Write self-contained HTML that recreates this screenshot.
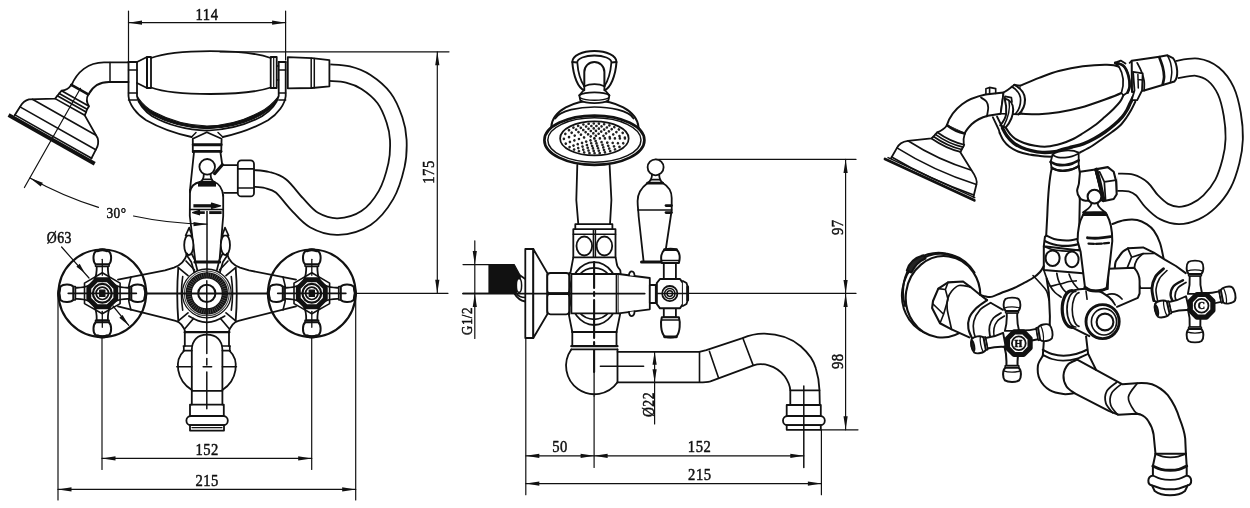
<!DOCTYPE html>
<html><head><meta charset="utf-8"><title>Faucet drawing</title>
<style>
html,body{margin:0;padding:0;background:#fff;}
body{width:1250px;height:508px;overflow:hidden;}
svg{display:block;filter:grayscale(1);}
svg text{font-family:"Liberation Serif","DejaVu Serif",serif;fill:#111;stroke:#111;stroke-width:0.5px;letter-spacing:0.6px;}
</style></head><body>
<svg width="1250" height="508" viewBox="0 0 1250 508" fill="none" stroke="#111" stroke-linejoin="round" stroke-linecap="round">
<path d="M128.5 11L128.5 62" stroke-width="1.2" />
<path d="M285.6 11L285.6 60" stroke-width="1.2" />
<path d="M128.5 22.7L285.6 22.7" stroke-width="1.2" />
<path d="M128.5 22.7L142 20.6L142 24.8Z" fill="#111" stroke="none"/>
<path d="M285.6 22.7L272.1 24.8L272.1 20.6Z" fill="#111" stroke="none"/>
<text font-size="17" text-anchor="middle" transform="translate(207 19.7) scale(0.86 1)" >114</text>
<path d="M220 51.8L449 51.8" stroke-width="1.2" />
<path d="M437.3 51.8L437.3 293.3" stroke-width="1.2" />
<path d="M437.3 51.8L439.4 65.3L435.2 65.3Z" fill="#111" stroke="none"/>
<path d="M437.3 293.3L435.2 279.8L439.4 279.8Z" fill="#111" stroke="none"/>
<text font-size="17" text-anchor="middle" transform="translate(433.6 172) rotate(-90) scale(0.86 1)" >175</text>
<path d="M102 300L102 469.5" stroke-width="1.2" />
<path d="M311.7 300L311.7 469.5" stroke-width="1.2" />
<path d="M102 458.4L311.7 458.4" stroke-width="1.2" />
<path d="M102 458.4L115.5 456.3L115.5 460.5Z" fill="#111" stroke="none"/>
<path d="M311.7 458.4L298.2 460.5L298.2 456.3Z" fill="#111" stroke="none"/>
<text font-size="17" text-anchor="middle" transform="translate(207.2 455.3) scale(0.86 1)" >152</text>
<path d="M58 293L58 500" stroke-width="1.2" />
<path d="M355.7 293L355.7 500" stroke-width="1.2" />
<path d="M58 489.4L355.7 489.4" stroke-width="1.2" />
<path d="M58 489.4L71.5 487.3L71.5 491.5Z" fill="#111" stroke="none"/>
<path d="M355.7 489.4L342.2 491.5L342.2 487.3Z" fill="#111" stroke="none"/>
<text font-size="17" text-anchor="middle" transform="translate(207.2 486) scale(0.86 1)" >215</text>
<path d="M329.5 72.7C332.6 73 341.9 73 348 74.5C354.1 76 360 78.1 366 82C372 85.9 379.2 91.7 384 98C388.8 104.3 392.1 113 394.5 120C396.9 127 398 132.5 398.3 140C398.6 147.5 398.6 155.8 396.5 165C394.4 174.2 391.1 186.2 386 195C380.9 203.8 374 212.7 366 218C358 223.3 346.7 226.3 338 226.6C329.3 226.9 320.8 223.8 314 220C307.2 216.2 302.5 209.7 297 204C291.5 198.3 286 190 281 186C276 182 271.7 181.3 267 180C262.3 178.7 255.3 178.6 253 178.3" stroke-width="18.4" fill="none" stroke-linecap="butt"/>
<path d="M329.5 72.7C332.6 73 341.9 73 348 74.5C354.1 76 360 78.1 366 82C372 85.9 379.2 91.7 384 98C388.8 104.3 392.1 113 394.5 120C396.9 127 398 132.5 398.3 140C398.6 147.5 398.6 155.8 396.5 165C394.4 174.2 391.1 186.2 386 195C380.9 203.8 374 212.7 366 218C358 223.3 346.7 226.3 338 226.6C329.3 226.9 320.8 223.8 314 220C307.2 216.2 302.5 209.7 297 204C291.5 198.3 286 190 281 186C276 182 271.7 181.3 267 180C262.3 178.7 255.3 178.6 253 178.3" stroke-width="14.8" fill="none" stroke="#fff" stroke-linecap="butt"/>
<path d="M128.5 62.4L104 62.4C88 62.4 77 72 71.4 85.4" stroke-width="1.8" fill="none" />
<path d="M128.5 82L109 82C100 82 93 86 88.8 94" stroke-width="1.8" fill="none" />
<path d="M110 62.4L110 82" stroke-width="1.5" />
<g transform="translate(51 140.5) rotate(29.5)" >
<path d="M0 -60L0 54" stroke-width="1.2" />
<path d="M-9.7 -58.5L9.7 -58.5" stroke-width="2.7" />
<path d="M-9.7 -58.5C-10 -53 -13 -50 -15.3 -48.5L-16 -45L-16.5 -42L-17 -38.5L-39.5 -25C-42.5 -22 -43.5 -19 -43.5 -15L-44 -4" stroke-width="1.8" fill="none" />
<path d="M9.7 -58.5C10 -53 13 -50 16.3 -48.5L16 -45L16.5 -42L17 -38.5L39.5 -25C42.5 -22 43.5 -19 43.5 -15L44 -4" stroke-width="1.8" fill="none" />
<path d="M-15.3 -48.5L15.3 -48.5" stroke-width="1.7" />
<path d="M-16 -45L16 -45" stroke-width="1.7" />
<path d="M-16.5 -42L16.5 -42" stroke-width="1.7" />
<path d="M-17 -38.5L17 -38.5" stroke-width="1.7" />
<path d="M-36.5 -26.7L36.5 -26.7" stroke-width="1.6" />
<path d="M-43.5 -14L43.5 -14" stroke-width="1.6" />
<path d="M-44 -4.5L44 -4.5" stroke-width="1.6" />
<path d="M-49.5 -1.3L49.5 -1.3" stroke-width="3.9" stroke-linecap="butt"/>
</g>
<path d="M30 178A360.5 360.5 0 0 0 98.5 207.4" stroke-width="1.2" fill="none" />
<path d="M133.5 216A360.5 360.5 0 0 0 207 224.1" stroke-width="1.2" fill="none" />
<path d="M30 178L42.8 182.8L40.7 186.5Z" fill="#111" stroke="none"/>
<path d="M207 224.2L193.5 226.3L193.5 222.1Z" fill="#111" stroke="none"/>
<text font-size="15.5" text-anchor="middle" transform="translate(116.5 217.8) scale(0.86 1)" >30°</text>
<path d="M128.5 62L128.5 96C129 104 136 114 146.2 120.3C158 127 172 133 191.6 137" stroke-width="1.8" fill="none" />
<path d="M285.7 62L285.7 96C285 104 278 114 268 120.3C256 127 242 133 222.8 137" stroke-width="1.8" fill="none" />
<path d="M137 62L137 96C138 103 144 111 152.2 116.3C166 124 186 130 207 130.6C228 130 248 124 262 116.3C270 111 277 103 278.7 96L278.7 62" stroke-width="1.8" fill="none" />
<path d="M137.5 97C139 103 145 110 153 115C167 122.5 186 128 207 128.6C228 128 247 122.5 261 115C269 110 276 103 278 97C274 102 268 108 260 112C246 119.5 228 125.5 207 126C186 125.5 168 119.5 154 112C146 108 141 102 137.5 97Z" stroke-width="1.2" fill="#111" />
<path d="M128.5 70L137 70" stroke-width="1.5" />
<path d="M278.7 70L285.7 70" stroke-width="1.5" />
<path d="M128.5 93L137 93" stroke-width="1.5" />
<path d="M278.7 93L285.7 93" stroke-width="1.5" />
<path d="M128.5 100L137 100" stroke-width="1.5" />
<path d="M278.7 100L285.7 100" stroke-width="1.5" />
<path d="M128.5 62L137 62" stroke-width="1.8" />
<path d="M278.7 62L285.7 62" stroke-width="1.8" />
<path d="M151 58C175 48.7 245 48.7 270.7 58M151 87.5C175 96.2 245 96.2 270.7 87.5" stroke-width="1.8" fill="none" />
<path d="M137 62L147 57L147 88L137 83" stroke-width="1.8" fill="none" />
<rect x="147" y="57" width="4" height="31" rx="0" stroke-width="1.8" fill="none" />
<rect x="270.7" y="57" width="6" height="31" rx="0" stroke-width="1.8" fill="none" />
<path d="M273.7 57L273.7 88" stroke-width="1.2" />
<path d="M276.7 66L278.7 66" stroke-width="1.5" />
<path d="M276.7 80L278.7 80" stroke-width="1.5" />
<path d="M287.8 57.2L312 58.2L329.4 60.2L329.4 86.3L312 88L287.8 88.3Z" stroke-width="1.8" fill="#fff" />
<path d="M311.2 58.2L311.2 88" stroke-width="1.5" />
<path d="M314.3 58.4L314.3 87.8" stroke-width="1.5" />
<path d="M192.8 152L192.8 138.8L206.8 132.2L221.6 138.8L221.2 152" stroke-width="1.8" fill="#fff" />
<path d="M191.6 137L196 132.5" stroke-width="1.5" />
<path d="M222.8 137L218 132.5" stroke-width="1.5" />
<path d="M193.2 144.7L221.2 144.7" stroke-width="2.9" />
<path d="M193.4 151.4L221 151.4" stroke-width="2.9" />
<path d="M194 152L190 190" stroke-width="1.8" fill="none" />
<path d="M220.4 152L222.2 164.5" stroke-width="1.8" fill="none" />
<circle cx="207.2" cy="166.8" r="7.8" stroke-width="1.8" fill="none" />
<path d="M203.8 174.2C203.8 178.5 202 181 200 182M210.6 174.2C210.6 178.5 212.4 181 214.4 182" stroke-width="1.8" fill="none" />
<path d="M202.6 179.4L211.8 179.4" stroke-width="1.6" />
<path d="M200 182L214.4 182" stroke-width="2" />
<path d="M190 192C191 186 195 183 200 182M214.4 182C220 184 222.5 189 223.2 196" stroke-width="1.8" fill="none" />
<path d="M198 184.4L216 184.4" stroke-width="4.4" stroke-linecap="butt"/>
<path d="M222.4 164.8L214.6 173.6" stroke-width="3.2" />
<path d="M222.6 165.2L237.8 165.2" stroke-width="1.8" />
<path d="M224 192.8L237.8 192.8" stroke-width="1.8" />
<rect x="237.8" y="160.4" width="16.2" height="36" rx="3.5" stroke-width="1.8" fill="#fff" />
<path d="M238 168.8L254 168.8" stroke-width="1.7" />
<path d="M238 188L254 188" stroke-width="1.7" />
<path d="M190 190L189.8 216L195.4 262" stroke-width="1.8" fill="none" />
<path d="M223.2 195L223.2 216L219.4 262" stroke-width="1.8" fill="none" />
<path d="M195 262L219.6 262" stroke-width="3.2" />
<path d="M193.4 205.8L212 205.8" stroke-width="3.2" stroke-linecap="butt"/>
<path d="M211.5 203.2L220.6 205.8L211.5 208.4Z" stroke-width="1.2" fill="#111" />
<path d="M190 209.6L223.2 209.6" stroke-width="1.5" />
<path d="M192.6 212.6L199.5 210.4L199.5 214.8Z" stroke-width="1.2" fill="#111" />
<path d="M199 212.6L204.8 212.6" stroke-width="2.7" stroke-linecap="butt"/>
<path d="M209.2 212.6L221.6 212.6" stroke-width="2.9" stroke-linecap="butt"/>
<path d="M207 211.5L207 275" stroke-width="1.5" />
<ellipse cx="188.8" cy="245" rx="4.6" ry="10" stroke-width="1.8" fill="#fff" />
<path d="M185.60000000000002 235.5L189.20000000000002 227.6L192.0 235.5Z" stroke-width="1.7" fill="#fff" />
<path d="M186.3 254.5L191.3 262L194.3 272.5" stroke-width="1.7" fill="none" />
<path d="M191.8 254L194.8 260L197.3 270" stroke-width="1.7" fill="none" />
<ellipse cx="225.4" cy="245" rx="4.6" ry="10" stroke-width="1.8" fill="#fff" />
<path d="M222.20000000000002 235.5L225.0 227.6L228.6 235.5Z" stroke-width="1.7" fill="#fff" />
<path d="M227.9 254.5L222.9 262L219.9 272.5" stroke-width="1.7" fill="none" />
<path d="M222.4 254L219.4 260L216.9 270" stroke-width="1.7" fill="none" />
<path d="M118 279.6L165 270.4L174 267.7C181 265 185.4 260 187.1 253.5" stroke-width="1.8" fill="none" />
<path d="M296 279.6L249 270.4L240 267.7C233 265 228.6 260 226.9 253.5" stroke-width="1.8" fill="none" />
<path d="M118 306.4L165 318.2L175.6 320.8C180 322 183.5 326 185.4 332.3" stroke-width="1.8" fill="none" />
<path d="M296 306.4L249 318.2L238.4 320.8C234 322 230.5 326 228.6 332.3" stroke-width="1.8" fill="none" />
<path d="M178.3 267.7Q176.2 294 178.3 320.8" stroke-width="1.8" fill="none" />
<path d="M235.7 267.7Q237.8 294 235.7 320.8" stroke-width="1.8" fill="none" />
<path d="M182.7 276.6Q180.2 293.5 182.7 310.2" stroke-width="1.6" fill="none" />
<path d="M231.3 276.6Q233.8 293.5 231.3 310.2" stroke-width="1.6" fill="none" />
<path d="M178.3 267.7L188 275.7M186 261L194.5 270" stroke-width="1.7" fill="none" />
<path d="M235.7 267.7L226 275.7M228 261L219.5 270" stroke-width="1.7" fill="none" />
<path d="M178.3 320.8L188 312.9M185 328.5L193.5 318.5" stroke-width="1.7" fill="none" />
<path d="M235.7 320.8L226 312.9M229 328.5L220.5 318.5" stroke-width="1.7" fill="none" />
<circle cx="206.8" cy="293.4" r="8.6" stroke-width="2" fill="none" />
<circle cx="206.8" cy="293.4" r="18.1" stroke-width="6.3" fill="none" />
<circle cx="206.8" cy="293.4" r="22.4" stroke-width="1.1" fill="none" stroke="#444"/>
<circle cx="206.8" cy="293.4" r="24.4" stroke-width="1.3" fill="none" />
<circle cx="206.8" cy="293.4" r="18.1" stroke-width="4.4" fill="none" stroke="#555" stroke-dasharray="0.7 1.5" stroke-linecap="butt"/>
<path d="M188.8 316C195 320 200 322 206.8 322.4C213.6 322 218.6 320 224.8 316" stroke-width="1.6" fill="none" />
<path d="M206.8 280.8L206.8 308.4" stroke-width="1.5" />
<path d="M206.8 308.4L206.8 353.5" stroke-width="1.5" />
<path d="M206.8 358.5L206.8 365" stroke-width="1.5" />
<path d="M206.8 372L206.8 408.8" stroke-width="1.5" />
<path d="M184.6 332.2L229.4 332.2" stroke-width="2.2" />
<path d="M184.8 332L184.8 346M229 332L229 346" stroke-width="1.8" fill="none" />
<path d="M183.4 346L191.8 346M183.4 350.6L191.8 350.6M183.8 346L183.8 350.6M222.4 346L230.2 346M222.4 350.6L230.2 350.6M229.8 346L229.8 350.6" stroke-width="1.7" fill="none" />
<path d="M191.8 404.6L191.8 350C191.8 340 198 334.6 207 334.6C216 334.6 222.4 340 222.4 350L222.4 404.6" stroke-width="1.8" fill="none" />
<path d="M184 350.8C174 360 176 380 191.8 390M229.6 350.8C239.6 360 237.6 380 222.4 390" stroke-width="1.8" fill="none" />
<path d="M176.8 366.8L191.8 366.8" stroke-width="1.6" />
<path d="M222.4 366.8L236.4 366.8" stroke-width="1.6" />
<path d="M203.2 366.8L211.6 366.8" stroke-width="1.6" />
<path d="M191.8 390.8L222.4 390.8" stroke-width="1.7" />
<rect x="190" y="404.6" width="33.8" height="11.4" rx="0" stroke-width="1.8" fill="none" />
<rect x="186.4" y="416" width="41.4" height="9.2" rx="4.4" stroke-width="1.8" fill="none" />
<rect x="190" y="425.2" width="34" height="5.4" rx="0" stroke-width="1.8" fill="none" />
<path d="M192 427.6L222 427.6" stroke-width="1.2" />
<path d="M68 293.4L356 293.4" stroke-width="2" />
<path d="M356 293.3L448 293.3" stroke-width="1.2" />
<path d="M131 277Q125.5 293.4 131 310M283 277Q288.5 293.4 283 310" stroke-width="1.6" fill="none" />
<circle cx="102.3" cy="293.3" r="43.8" stroke-width="2.2" fill="none" />
<g transform="translate(102.3 293.3) rotate(0)" >
<path d="M13 -8C17 -6 21 -5.4 27 -5.6L27 5.6C21 5.4 17 6 13 8" stroke-width="1.8" fill="#fff" />
<path d="M27 -6.8L29 -6.8L29 6.8L27 6.8Z" stroke-width="1.5" fill="#fff" />
<path d="M29 -6.5C31 -9.5 39 -9.5 41.5 -7C43.6 -4 43.6 4 41.5 7C39 9.5 31 9.5 29 6.5Z" stroke-width="2" fill="#fff" />
<path d="M42.6 -4.5C43.8 -2 43.8 2 42.6 4.5" stroke-width="2.9" fill="none" />
</g>
<g transform="translate(102.3 293.3) rotate(90)" >
<path d="M13 -8C17 -6 21 -5.4 27 -5.6L27 5.6C21 5.4 17 6 13 8" stroke-width="1.8" fill="#fff" />
<path d="M27 -6.8L29 -6.8L29 6.8L27 6.8Z" stroke-width="1.5" fill="#fff" />
<path d="M29 -6.5C31 -9.5 39 -9.5 41.5 -7C43.6 -4 43.6 4 41.5 7C39 9.5 31 9.5 29 6.5Z" stroke-width="2" fill="#fff" />
<path d="M42.6 -4.5C43.8 -2 43.8 2 42.6 4.5" stroke-width="2.9" fill="none" />
</g>
<g transform="translate(102.3 293.3) rotate(180)" >
<path d="M13 -8C17 -6 21 -5.4 27 -5.6L27 5.6C21 5.4 17 6 13 8" stroke-width="1.8" fill="#fff" />
<path d="M27 -6.8L29 -6.8L29 6.8L27 6.8Z" stroke-width="1.5" fill="#fff" />
<path d="M29 -6.5C31 -9.5 39 -9.5 41.5 -7C43.6 -4 43.6 4 41.5 7C39 9.5 31 9.5 29 6.5Z" stroke-width="2" fill="#fff" />
<path d="M42.6 -4.5C43.8 -2 43.8 2 42.6 4.5" stroke-width="2.9" fill="none" />
</g>
<g transform="translate(102.3 293.3) rotate(270)" >
<path d="M13 -8C17 -6 21 -5.4 27 -5.6L27 5.6C21 5.4 17 6 13 8" stroke-width="1.8" fill="#fff" />
<path d="M27 -6.8L29 -6.8L29 6.8L27 6.8Z" stroke-width="1.5" fill="#fff" />
<path d="M29 -6.5C31 -9.5 39 -9.5 41.5 -7C43.6 -4 43.6 4 41.5 7C39 9.5 31 9.5 29 6.5Z" stroke-width="2" fill="#fff" />
<path d="M42.6 -4.5C43.8 -2 43.8 2 42.6 4.5" stroke-width="2.9" fill="none" />
</g>
<path d="M120.1 303.6L102.3 313.8L84.5 303.6L84.5 283.1L102.3 272.8L120.1 283.1Z" stroke-width="1.6" fill="none" />
<path d="M115.8 298.9L107.9 306.8L96.7 306.8L88.8 298.9L88.8 287.7L96.7 279.8L107.9 279.8L115.8 287.7Z" stroke-width="4.9" fill="#fff" />
<circle cx="102.3" cy="293.3" r="9.4" stroke-width="2.2" fill="none" />
<circle cx="102.3" cy="293.3" r="6.2" stroke-width="1.7" fill="none" />
<rect x="99.7" y="290.1" width="5.2" height="6.4" rx="0" stroke-width="1.2" fill="#111" />
<path d="M102.3 259.3L102.3 275.3" stroke-width="1.3" />
<path d="M102.3 311.3L102.3 327.3" stroke-width="1.3" />
<path d="M68.3 293.3L136.3 293.3" stroke-width="1.8" />
<circle cx="311.8" cy="293.3" r="43.8" stroke-width="2.2" fill="none" />
<g transform="translate(311.8 293.3) rotate(0)" >
<path d="M13 -8C17 -6 21 -5.4 27 -5.6L27 5.6C21 5.4 17 6 13 8" stroke-width="1.8" fill="#fff" />
<path d="M27 -6.8L29 -6.8L29 6.8L27 6.8Z" stroke-width="1.5" fill="#fff" />
<path d="M29 -6.5C31 -9.5 39 -9.5 41.5 -7C43.6 -4 43.6 4 41.5 7C39 9.5 31 9.5 29 6.5Z" stroke-width="2" fill="#fff" />
<path d="M42.6 -4.5C43.8 -2 43.8 2 42.6 4.5" stroke-width="2.9" fill="none" />
</g>
<g transform="translate(311.8 293.3) rotate(90)" >
<path d="M13 -8C17 -6 21 -5.4 27 -5.6L27 5.6C21 5.4 17 6 13 8" stroke-width="1.8" fill="#fff" />
<path d="M27 -6.8L29 -6.8L29 6.8L27 6.8Z" stroke-width="1.5" fill="#fff" />
<path d="M29 -6.5C31 -9.5 39 -9.5 41.5 -7C43.6 -4 43.6 4 41.5 7C39 9.5 31 9.5 29 6.5Z" stroke-width="2" fill="#fff" />
<path d="M42.6 -4.5C43.8 -2 43.8 2 42.6 4.5" stroke-width="2.9" fill="none" />
</g>
<g transform="translate(311.8 293.3) rotate(180)" >
<path d="M13 -8C17 -6 21 -5.4 27 -5.6L27 5.6C21 5.4 17 6 13 8" stroke-width="1.8" fill="#fff" />
<path d="M27 -6.8L29 -6.8L29 6.8L27 6.8Z" stroke-width="1.5" fill="#fff" />
<path d="M29 -6.5C31 -9.5 39 -9.5 41.5 -7C43.6 -4 43.6 4 41.5 7C39 9.5 31 9.5 29 6.5Z" stroke-width="2" fill="#fff" />
<path d="M42.6 -4.5C43.8 -2 43.8 2 42.6 4.5" stroke-width="2.9" fill="none" />
</g>
<g transform="translate(311.8 293.3) rotate(270)" >
<path d="M13 -8C17 -6 21 -5.4 27 -5.6L27 5.6C21 5.4 17 6 13 8" stroke-width="1.8" fill="#fff" />
<path d="M27 -6.8L29 -6.8L29 6.8L27 6.8Z" stroke-width="1.5" fill="#fff" />
<path d="M29 -6.5C31 -9.5 39 -9.5 41.5 -7C43.6 -4 43.6 4 41.5 7C39 9.5 31 9.5 29 6.5Z" stroke-width="2" fill="#fff" />
<path d="M42.6 -4.5C43.8 -2 43.8 2 42.6 4.5" stroke-width="2.9" fill="none" />
</g>
<path d="M329.6 303.6L311.8 313.8L294 303.6L294 283.1L311.8 272.8L329.6 283.1Z" stroke-width="1.6" fill="none" />
<path d="M325.3 298.9L317.4 306.8L306.2 306.8L298.3 298.9L298.3 287.7L306.2 279.8L317.4 279.8L325.3 287.7Z" stroke-width="4.9" fill="#fff" />
<circle cx="311.8" cy="293.3" r="9.4" stroke-width="2.2" fill="none" />
<circle cx="311.8" cy="293.3" r="6.2" stroke-width="1.7" fill="none" />
<rect x="309.2" y="290.1" width="5.2" height="6.4" rx="0" stroke-width="1.2" fill="#111" />
<path d="M311.8 259.3L311.8 275.3" stroke-width="1.3" />
<path d="M311.8 311.3L311.8 327.3" stroke-width="1.3" />
<path d="M277.8 293.3L345.8 293.3" stroke-width="1.8" />
<text font-size="16" text-anchor="middle" transform="translate(59.4 243.4) scale(0.86 1)" >Ø63</text>
<path d="M61.6 247L89 278" stroke-width="1.2" />
<path d="M84.6 272.8L76.4 266.7L79.7 263.8Z" fill="#111" stroke="none"/>
<path d="M113 306L128.8 325.4" stroke-width="1.2" />
<path d="M128.8 325.4L119.3 317.8L122.6 314.9Z" fill="#111" stroke="none"/>
<path d="M655.6 159.4L856 159.4" stroke-width="1.2" />
<path d="M688 293.4L856 293.4" stroke-width="1.2" />
<path d="M820.8 429.8L858 429.8" stroke-width="1.2" />
<path d="M845.6 159.4L845.6 429.8" stroke-width="1.2" />
<path d="M845.6 159.4L847.7 172.9L843.5 172.9Z" fill="#111" stroke="none"/>
<path d="M845.6 293.4L843.5 279.9L847.7 279.9Z" fill="#111" stroke="none"/>
<path d="M845.6 293.4L847.7 306.9L843.5 306.9Z" fill="#111" stroke="none"/>
<path d="M845.6 429.8L843.5 416.3L847.7 416.3Z" fill="#111" stroke="none"/>
<text font-size="17" text-anchor="middle" transform="translate(842.8 227.2) rotate(-90) scale(0.86 1)" >97</text>
<text font-size="17" text-anchor="middle" transform="translate(842.8 361.2) rotate(-90) scale(0.86 1)" >98</text>
<path d="M525.8 338L525.8 494.7" stroke-width="1.2" />
<path d="M594.1 396L594.1 467.5" stroke-width="1.2" />
<path d="M821.4 429.8L821.4 494.7" stroke-width="1.2" />
<path d="M525.8 455.8L803.8 455.8" stroke-width="1.2" />
<path d="M525.8 455.8L539.3 453.7L539.3 457.9Z" fill="#111" stroke="none"/>
<path d="M594.1 455.8L580.6 457.9L580.6 453.7Z" fill="#111" stroke="none"/>
<path d="M594.1 455.8L607.6 453.7L607.6 457.9Z" fill="#111" stroke="none"/>
<path d="M803.8 455.8L790.3 457.9L790.3 453.7Z" fill="#111" stroke="none"/>
<path d="M525.8 483.6L821.4 483.6" stroke-width="1.2" />
<path d="M525.8 483.6L539.3 481.5L539.3 485.7Z" fill="#111" stroke="none"/>
<path d="M821.4 483.6L807.9 485.7L807.9 481.5Z" fill="#111" stroke="none"/>
<text font-size="17" text-anchor="middle" transform="translate(560 452.2) scale(0.86 1)" >50</text>
<text font-size="17" text-anchor="middle" transform="translate(699.6 452.2) scale(0.86 1)" >152</text>
<text font-size="17" text-anchor="middle" transform="translate(699.8 480) scale(0.86 1)" >215</text>
<path d="M474.8 240.8L474.8 338.4" stroke-width="1.2" />
<path d="M463 264.6L490 264.6" stroke-width="1.2" />
<path d="M463 293.4L490 293.4" stroke-width="1.2" />
<path d="M474.8 264.6L472.7 251.1L476.9 251.1Z" fill="#111" stroke="none"/>
<path d="M474.8 293.4L476.9 306.9L472.7 306.9Z" fill="#111" stroke="none"/>
<text font-size="15" text-anchor="middle" transform="translate(472.3 321) rotate(-90) scale(0.86 1)" letter-spacing="1.2">G1/2</text>
<path d="M654.6 351.8L654.6 424" stroke-width="1.2" />
<path d="M654.6 351.8L656.7 364.8L652.5 364.8Z" fill="#111" stroke="none"/>
<path d="M654.6 382.3L652.5 369.3L656.7 369.3Z" fill="#111" stroke="none"/>
<text font-size="16" text-anchor="middle" transform="translate(654 404.5) rotate(-90) scale(0.86 1)" >Ø22</text>
<path d="M489 264.5L514.2 264.5L520.2 275.5L520.2 281L516 293.2L489 293.2Z" stroke-width="1.2" fill="#111" />
<path d="M520.2 275.5L525.3 279M514.2 293.2C517 298 520 300.5 525.3 301.5" stroke-width="1.8" fill="none" />
<ellipse cx="519" cy="285.5" rx="2.6" ry="7" stroke-width="1.5" fill="#fff" />
<path d="M516.5 293.5C518 296 521 297.5 525.3 297.5" stroke-width="1.5" fill="none" />
<rect x="525.3" y="249" width="8" height="89" rx="0" stroke-width="1.8" fill="#fff" />
<path d="M533.3 249L547.3 273L547.3 314.3L533.3 338Z" stroke-width="1.8" fill="#fff" />
<rect x="547.3" y="273" width="22.1" height="20.6" rx="3.2" stroke-width="1.8" fill="#fff" />
<rect x="547.3" y="293.6" width="22.1" height="20.7" rx="3.2" stroke-width="1.8" fill="#fff" />
<path d="M547.3 293.6L569.4 293.6" stroke-width="2.7" />
<ellipse cx="594.1" cy="293.6" rx="24.6" ry="31.4" stroke-width="1.8" fill="none" />
<ellipse cx="594.1" cy="293.6" rx="21.8" ry="25.7" stroke-width="1.8" fill="none" />
<path d="M573.3 257.3L570.4 273M615.5 257.3C617 262 616 266 619 268.5C621 270 620.6 272 620.6 274" stroke-width="1.8" fill="none" />
<path d="M568.6 313.3L572.3 332M620.3 313.3L616.5 332" stroke-width="1.8" fill="none" />
<rect x="571.4" y="274" width="47.2" height="39.3" rx="0" stroke-width="1.8" fill="#fff" />
<path d="M569.4 273L569.4 314.3" stroke-width="1.8" />
<path d="M616.4 274L616.4 313.3" stroke-width="1.5" />
<path d="M618.6 274L649.8 278L649.8 309.3L618.6 313.3" stroke-width="1.8" fill="#fff" />
<path d="M629 275.3C629 270 634.5 270 634.5 276M629 312C629 317.5 634.5 317.5 634.5 311.3" stroke-width="1.8" fill="#fff" />
<rect x="649.8" y="285" width="6" height="18" rx="0" stroke-width="1.8" fill="#fff" />
<path d="M463 293.6L644.7 293.6" stroke-width="1.8" />
<path d="M594.1 262L594.1 288" stroke-width="2.1" />
<path d="M594.1 292L594.1 296" stroke-width="2.1" />
<path d="M594.1 300L594.1 338" stroke-width="2.1" />
<path d="M594.1 342L594.1 346" stroke-width="2.1" />
<path d="M594.1 350L594.1 372" stroke-width="2.1" />
<path d="M594.1 372L594.1 396" stroke-width="1.3" />
<path d="M572.3 332L616.5 332" stroke-width="1.8" />
<path d="M571.3 346.2L617.5 346.2" stroke-width="2.2" />
<path d="M571.3 349.4L617.5 349.4" stroke-width="1.6" />
<path d="M572.3 332L572.3 346" stroke-width="1.8" />
<path d="M616.5 332L616.5 346" stroke-width="1.8" />
<path d="M571.3 349.5A28.3 28.3 0 1 0 617.5 382.3" stroke-width="1.8" fill="none" />
<path d="M617.5 349.4L617.5 382.3" stroke-width="1.8" />
<path d="M617.5 351.8L699.3 351.8L706.3 350.2L742.5 338.2C750 335 757 333.5 764.6 333.7C780 334 792 339 800.7 346.2C809 353.5 814 361 815.8 368.3C818.5 377 819.3 384 819.5 390.4L819.8 405" stroke-width="1.8" fill="none" />
<path d="M617.5 382.3L699.3 382.3C704 382.3 707 382.2 710.4 381.3L753.5 365.3C759 363.5 764 364 768.6 365.3C776 367.5 781.5 372 784.7 376.3C788 381 790 386 790.3 390.4L790.3 405" stroke-width="1.8" fill="none" />
<path d="M699.5 351.8L699.5 382.3" stroke-width="1.6" />
<path d="M709.4 351.2L718.4 377.6" stroke-width="1.6" />
<path d="M742.9 338.2L753 364.9" stroke-width="1.6" />
<path d="M790.3 390.4L819.5 390.4" stroke-width="1.6" />
<rect x="786.7" y="405" width="34.1" height="11" rx="0" stroke-width="1.8" fill="#fff" />
<rect x="783" y="416" width="41.8" height="9.2" rx="4.4" stroke-width="1.8" fill="#fff" />
<rect x="786.7" y="425.2" width="34.1" height="4.6" rx="0" stroke-width="1.8" fill="#fff" />
<path d="M600.4 366.3L643.6 366.3" stroke-width="1.6" />
<path d="M803.8 386L803.8 467.5" stroke-width="1.5" />
<rect x="573.3" y="229.2" width="42.2" height="28.1" rx="0" stroke-width="1.8" fill="#fff" />
<path d="M573.3 234.3L615.5 234.3" stroke-width="1.6" />
<path d="M593.4 229.2L593.4 257.3" stroke-width="1.5" />
<path d="M595.4 229.2L595.4 257.3" stroke-width="1.5" />
<ellipse cx="584.3" cy="246" rx="7.8" ry="9.5" stroke-width="1.8" fill="none" />
<ellipse cx="604.4" cy="246" rx="7.8" ry="9.5" stroke-width="1.8" fill="none" />
<rect x="575.3" y="224.2" width="37.1" height="5" rx="0" stroke-width="1.8" fill="#fff" />
<path d="M577.3 165L576.3 200L578.3 224.2M609.6 165L611.4 200L610 224.2" stroke-width="1.8" fill="none" />
<path d="M551.2 127.5C552 110 575 100.5 594.4 100.5C614 100.5 637 110 638.6 127.5L642 134M551.2 127.5L547 134" stroke-width="2" fill="#fff" />
<path d="M555.2 118.5C560 110 580 107 594.4 107C609 107 629 110 633.6 118.5" stroke-width="1.7" fill="none" />
<ellipse cx="594.4" cy="140.2" rx="50" ry="24.6" stroke-width="2.7" fill="#fff" />
<ellipse cx="594.4" cy="140" rx="46.6" ry="22.2" stroke-width="1.5" fill="none" />
<ellipse cx="594.4" cy="138.4" rx="34.3" ry="17" stroke-width="1.7" fill="none" />
<ellipse cx="594.4" cy="138.4" rx="30.5" ry="14.9" stroke-width="2.6" fill="none" stroke-dasharray="0.1 5.1" stroke="#222"/>
<ellipse cx="594.4" cy="138.4" rx="25.5" ry="12.5" stroke-width="2.6" fill="none" stroke-dasharray="0.1 5.1" stroke="#222"/>
<ellipse cx="594.4" cy="138.4" rx="20.5" ry="10" stroke-width="2.6" fill="none" stroke-dasharray="0.1 5.1" stroke="#222"/>
<ellipse cx="594.4" cy="138.4" rx="15.5" ry="7.6" stroke-width="2.6" fill="none" stroke-dasharray="0.1 5.1" stroke="#222"/>
<ellipse cx="594.4" cy="138.4" rx="10.5" ry="5.1" stroke-width="2.6" fill="none" stroke-dasharray="0.1 5.1" stroke="#222"/>
<ellipse cx="594.4" cy="138.4" rx="5.5" ry="2.7" stroke-width="2.6" fill="none" stroke-dasharray="0.1 5.1" stroke="#222"/>
<circle cx="594.4" cy="138.4" r="0.6" stroke-width="1.5" fill="#222" />
<path d="M579.3 95.3C585 91.5 604 91.5 609.4 95.3L608.4 100.3C603 104 586 104 580.3 100.3Z" stroke-width="1.8" fill="#fff" />
<path d="M580 97.8C586 101 603 101 608.8 97.8" stroke-width="1.5" fill="none" />
<path d="M584.3 86.2L584.3 89.5L579.3 95.3M604.4 86.2L604.4 89.5L609.4 95.3" stroke-width="1.8" fill="none" />
<path d="M584.3 90.2C578 88 573.3 76 572.3 62A22.1 11 0 0 1 616.5 62C615.5 76 610.5 88 604.4 90.2" stroke-width="2" fill="none" />
<path d="M572.3 62L577.3 62.5M616.5 62L611.4 62.5M577.3 62.5A17 7 0 0 1 611.4 62.5M577.3 62.5C578 72 580 80 584.3 86.2M611.4 62.5C610.6 72 608.5 80 604.4 86.2" stroke-width="1.8" fill="none" />
<path d="M584.3 86.2L584.3 72A10 10 0 0 1 604.4 72L604.4 86.2" stroke-width="2" fill="none" />
<path d="M584.3 86.2C590 83.5 599 83.5 604.4 86.2" stroke-width="1.7" fill="none" />
<circle cx="655.6" cy="167.3" r="8" stroke-width="1.8" fill="#fff" />
<path d="M652 174.5C652 179 650 181.5 647.6 183M659.2 174.5C659.2 179 661 181.5 662.7 183" stroke-width="1.8" fill="none" />
<path d="M650.6 179.6L660.4 179.6" stroke-width="1.6" />
<path d="M647.6 183.2L662.7 183.2" stroke-width="2.7" />
<path d="M647.6 183C641 188 637.6 194 637.6 201C637.6 208 638.6 212 638.6 216L643.6 261.4" stroke-width="1.8" fill="none" />
<path d="M662.7 183C668 186 671.7 191 671.7 198L671.7 210L665.7 250" stroke-width="1.8" fill="none" />
<path d="M638 210L671.7 210" stroke-width="1.6" />
<path d="M666 205.6L671.5 205.6" stroke-width="2.7" />
<path d="M666 212.6L671.5 212.6" stroke-width="2.7" />
<path d="M641.6 262L662.7 262" stroke-width="3.2" />
<path d="M663.8 279L663.8 263L675.9 263L675.9 279" stroke-width="1.8" fill="#fff" />
<path d="M661.8 263C660.5 258 661 252 664.5 249.8C668 248.5 673 248.5 676.5 249.8C680 252 680.3 258 678.9 263Z" stroke-width="2" fill="#fff" />
<path d="M664.5 249.6L676.5 249.6" stroke-width="2.7" />
<path d="M662 260.4L678.7 260.4" stroke-width="1.5" />
<path d="M663.8 308.3L663.8 317.3L675.9 317.3L675.9 308.3" stroke-width="1.8" fill="#fff" />
<path d="M661.8 317.3C660.5 322 660.5 332 664.5 336.4C668 337.8 673 337.8 676.5 336.4C680.3 332 680.3 322 678.9 317.3Z" stroke-width="2" fill="#fff" />
<path d="M664.5 336.8L676.5 336.8" stroke-width="2.7" />
<path d="M662 320L678.7 320" stroke-width="1.5" />
<path d="M660 279L680 279L682.9 283L682.9 304L680 308.3L660 308.3L656.8 304L656.8 283Z" stroke-width="2" fill="#fff" />
<path d="M682.9 281L686.5 283L688 288L688 299L686.5 304L682.9 306" stroke-width="1.8" fill="#fff" />
<path d="M687.6 287L687.6 300" stroke-width="2.9" />
<circle cx="669.8" cy="293.6" r="7.6" stroke-width="1.8" fill="none" />
<circle cx="669.8" cy="293.6" r="5.2" stroke-width="1.5" fill="none" />
<circle cx="669.8" cy="293.6" r="2.8" stroke-width="1.5" fill="none" />
<path d="M656.8 293.6L688 293.6" stroke-width="1.5" />
<path d="M1176.8 69.5C1180.2 69.1 1190.9 66.4 1197 67.2C1203.1 68 1208.6 70.3 1213.4 74.2C1218.2 78.1 1222.7 84.1 1225.8 90.8C1228.9 97.5 1230.9 106.4 1232.3 114.5C1233.7 122.6 1234.4 131.4 1234.2 139.2C1234 146.9 1232.9 153.6 1231 161C1229.1 168.4 1226.6 176.9 1223 183.7C1219.4 190.4 1214.2 196.9 1209.5 201.5C1204.8 206.1 1200.1 209.2 1195 211.5C1189.9 213.8 1184.2 215.5 1179 215.5C1173.8 215.5 1168.6 213.9 1164 211.5C1159.4 209.1 1155.2 204.8 1151.5 201C1147.8 197.2 1145.4 192 1142 189C1138.6 186 1135 184.1 1131 183C1127 181.9 1119.9 182.4 1117.7 182.3" stroke-width="19.1" fill="none" stroke-linecap="butt"/>
<path d="M1176.8 69.5C1180.2 69.1 1190.9 66.4 1197 67.2C1203.1 68 1208.6 70.3 1213.4 74.2C1218.2 78.1 1222.7 84.1 1225.8 90.8C1228.9 97.5 1230.9 106.4 1232.3 114.5C1233.7 122.6 1234.4 131.4 1234.2 139.2C1234 146.9 1232.9 153.6 1231 161C1229.1 168.4 1226.6 176.9 1223 183.7C1219.4 190.4 1214.2 196.9 1209.5 201.5C1204.8 206.1 1200.1 209.2 1195 211.5C1189.9 213.8 1184.2 215.5 1179 215.5C1173.8 215.5 1168.6 213.9 1164 211.5C1159.4 209.1 1155.2 204.8 1151.5 201C1147.8 197.2 1145.4 192 1142 189C1138.6 186 1135 184.1 1131 183C1127 181.9 1119.9 182.4 1117.7 182.3" stroke-width="15.5" fill="none" stroke="#fff" stroke-linecap="butt"/>
<path d="M1112.4 224C1114.3 223.4 1119.9 221 1124 220.3C1128.1 219.6 1133.4 219.3 1137.2 220C1141 220.7 1144.2 222.6 1147 224.4C1149.8 226.2 1151.6 227.6 1153.8 230.7C1156 233.8 1158.4 238.4 1160 243C1161.6 247.6 1162.9 255.5 1163.5 258" stroke-width="2" fill="none" />
<path d="M1114.8 266.9C1115.5 260 1118 256 1119.2 256.3C1121 252 1124 249.5 1128 248.3L1143.1 247.4L1153.8 252.7L1165.3 259.8L1175.9 266L1185.7 273.1L1178 306L1153.8 300.6L1140.5 288.2L1127.2 267.8Z" stroke-width="1.2" fill="#fff" stroke="none"/>
<path d="M1114.8 268.5C1114.9 267.4 1114.9 264 1115.6 262C1116.3 260 1118 258.1 1119.2 256.3C1120.4 254.6 1121.5 252.8 1123 251.5C1124.5 250.2 1127.2 248.8 1128 248.3" stroke-width="2.1" fill="none" />
<path d="M1128 248.3L1143.1 247.4L1153.8 252.7L1165.3 259.8L1175.9 266L1185.7 273.1" stroke-width="2" fill="none" />
<path d="M1128 248.8L1131.6 257.2L1143.1 253.6L1153.8 253.5M1131.6 257.2L1127.2 267.8" stroke-width="1.7" fill="none" />
<path d="M1143.1 253.6C1142.1 254.6 1138.4 257.3 1136.9 259.8C1135.4 262.3 1134.3 265.4 1134.3 268.7C1134.3 271.9 1135.9 276.1 1136.9 279.3C1137.9 282.6 1139.9 286.7 1140.5 288.2" stroke-width="1.7" fill="none" />
<path d="M1140.5 288.2L1152 288.2" stroke-width="1.7" />
<path d="M1163.5 268.7C1162.2 270 1157.4 273.4 1155.5 276.7C1153.6 279.9 1152.3 284.2 1152 288.2C1151.7 292.2 1153.5 298.5 1153.8 300.6" stroke-width="2.9" fill="none" />
<path d="M1167 270.5C1165.8 271.8 1161.3 275.4 1159.5 278.5C1157.7 281.6 1156.3 285.2 1156 289C1155.7 292.8 1157.3 299 1157.6 301" stroke-width="1.6" fill="none" />
<path d="M1183 280.2C1181.4 281.2 1175.4 283.9 1173.3 286.4C1171.2 288.9 1170.6 292.6 1170.6 295.3C1170.6 298 1172.8 301.2 1173.3 302.4" stroke-width="2.4" fill="none" />
<path d="M1186 282.5C1184.6 283.4 1179.5 285.9 1177.7 288.2C1175.9 290.5 1175 293.6 1175 296.2C1175 298.8 1177.1 302.3 1177.5 303.5" stroke-width="1.7" fill="none" />
<path d="M1153.8 300.6L1160 303" stroke-width="1.7" fill="none" />
<g transform="translate(1195 301.5) rotate(167.2) scale(0.95)" >
<path d="M8 -7.5C14 -5.8 21 -5.2 27 -5.6L27 5.6C21 5.2 14 5.8 8 7.5Z" stroke-width="2" fill="#fff" />
<path d="M27 -6.8L29 -6.8L29 6.8L27 6.8Z" stroke-width="1.5" fill="#fff" />
<path d="M29 -6.5C31 -9.5 39 -9.5 41.5 -7C43.6 -4 43.6 4 41.5 7C39 9.5 31 9.5 29 6.5Z" stroke-width="2" fill="#fff" />
<path d="M41 -5.5C43.6 -3 43.6 3 41 5.5C39.6 3 39.6 -3 41 -5.5Z" stroke-width="1.7" fill="#222" />
<path d="M32 -8.3C33.6 -4 33.6 4 32 8.3" stroke-width="1.3" fill="none" />
</g>
<g transform="translate(1195 301.5) rotate(-90) scale(0.95)" >
<path d="M8 -7.5C14 -5.8 21 -5.2 27 -5.6L27 5.6C21 5.2 14 5.8 8 7.5Z" stroke-width="2" fill="#fff" />
<path d="M27 -6.8L29 -6.8L29 6.8L27 6.8Z" stroke-width="1.5" fill="#fff" />
<path d="M29 -6.5C31 -9.5 39 -9.5 41.5 -7C43.6 -4 43.6 4 41.5 7C39 9.5 31 9.5 29 6.5Z" stroke-width="2" fill="#fff" />
<path d="M32 -8.3C33.6 -4 33.6 4 32 8.3" stroke-width="1.3" fill="none" />
</g>
<g transform="translate(1195 301.5) rotate(-11) scale(0.95)" >
<path d="M8 -7.5C14 -5.8 21 -5.2 27 -5.6L27 5.6C21 5.2 14 5.8 8 7.5Z" stroke-width="2" fill="#fff" />
<path d="M27 -6.8L29 -6.8L29 6.8L27 6.8Z" stroke-width="1.5" fill="#fff" />
<path d="M29 -6.5C31 -9.5 39 -9.5 41.5 -7C43.6 -4 43.6 4 41.5 7C39 9.5 31 9.5 29 6.5Z" stroke-width="2" fill="#fff" />
<path d="M32 -8.3C33.6 -4 33.6 4 32 8.3" stroke-width="1.3" fill="none" />
</g>
<g transform="translate(1195 301.5) rotate(90) scale(0.95)" >
<path d="M8 -7.5C14 -5.8 21 -5.2 27 -5.6L27 5.6C21 5.2 14 5.8 8 7.5Z" stroke-width="2" fill="#fff" />
<path d="M27 -6.8L29 -6.8L29 6.8L27 6.8Z" stroke-width="1.5" fill="#fff" />
<path d="M29 -6.5C31 -9.5 39 -9.5 41.5 -7C43.6 -4 43.6 4 41.5 7C39 9.5 31 9.5 29 6.5Z" stroke-width="2" fill="#fff" />
<path d="M32 -8.3C33.6 -4 33.6 4 32 8.3" stroke-width="1.3" fill="none" />
</g>
<path d="M1212.9 310.5L1206.3 317.1L1196.9 317.1L1190.3 310.5L1190.3 301.1L1196.9 294.5L1206.3 294.5L1212.9 301.1Z" stroke-width="5.2" fill="#fff" />
<circle cx="1201.6" cy="305.8" r="6.9" stroke-width="1.8" fill="none" />
<text font-size="10" text-anchor="middle" transform="translate(1201.6 309.1) scale(1 1)" font-weight="bold" stroke-width="0.3">C</text>
<ellipse cx="939.6" cy="294.6" rx="37.6" ry="41" stroke-width="2" fill="#fff" transform="rotate(8 939.6 294.6)" />
<path d="M905 306C900.5 290 904 274 912.5 264C921 254.5 934 251 946 253.4C958 255.5 968 262 974.5 272.5" stroke-width="2" fill="none" />
<path d="M906.8 270.5C909 263 915 257.5 923.5 255.2L925.5 258.5C919.5 261 914.5 266 911.5 272.5Z" stroke-width="2" fill="#222" />
<ellipse cx="943" cy="296.8" rx="37.2" ry="40.8" stroke-width="2.1" fill="#fff" transform="rotate(8 943 296.8)" />
<path d="M933 301L938.3 288.6L948 282.4L963.1 281.5L970.2 286.8L980 294.8L987.1 300.1L1003 310L994 346L972 338.3L969.3 337.4L951.6 329.4L940 323.2L932.1 308.1Z" stroke-width="1.2" fill="#fff" stroke="none"/>
<path d="M970.2 286.8L963.1 281.5L948 282.4L938.3 288.6L933 301L932.1 308.1L940 323.2L951.6 329.4L969.3 337.4" stroke-width="2.1" fill="none" />
<path d="M948 282.4L945.4 289.5L938.3 288.6M945.4 289.5L948 299.3L943.6 314.3L940 323.2M943.6 314.3L933 304" stroke-width="1.6" fill="none" />
<path d="M970.2 286.8C968.3 286.6 962.1 284.8 959 285.5C955.9 286.2 953.5 289 951.6 291.3C949.7 293.6 948.3 296.4 947.6 299.3C946.9 302.2 946.8 305.3 947.2 309C947.6 312.7 949.1 318 949.8 321.4C950.5 324.8 951.3 328.1 951.6 329.4" stroke-width="1.7" fill="none" />
<path d="M970.2 286.8L980 294.8L987.1 300.1" stroke-width="2" fill="none" />
<path d="M987.1 300.1C985.3 301.4 979.4 305.1 976.4 308.1C973.4 311.1 970.6 314.5 969.3 317.9C968 321.3 967.9 325.1 968.4 328.5C968.9 331.9 971.4 336.7 972 338.3" stroke-width="2.1" fill="none" />
<path d="M990.6 302.8C988.8 304 982.8 306.8 980 309.9C977.2 313 974.8 317.7 973.8 321.4C972.8 325.1 973.3 329 973.8 332C974.2 335 976 338.2 976.5 339.5" stroke-width="1.7" fill="none" />
<path d="M990.6 302.8L1003 309.9" stroke-width="1.8" fill="none" />
<path d="M1001 313C999.8 313.8 995.4 315.8 993.5 318C991.6 320.2 990.2 323.2 989.6 326C989 328.8 989.3 332.2 989.8 335C990.3 337.8 992 341.7 992.5 343" stroke-width="1.8" fill="none" />
<path d="M1004.5 316C1003.3 316.8 999.1 318.9 997.4 321C995.6 323.1 994.5 325.8 994 328.5C993.5 331.2 993.7 334.3 994.2 337C994.7 339.7 996.5 343.2 997 344.5" stroke-width="1.6" fill="none" />
<path d="M976.5 339.5L983 341" stroke-width="1.7" fill="none" />
<path d="M1043.8 341.7L1042.8 355.7C1037 361 1036 372 1039.8 379.4C1043 386 1050 392 1063.5 394.1L1074.3 393.1L1118.6 414.8L1160 420L1157.4 456L1185.5 456C1185.5 430 1181 412 1167.8 395.1C1158 385 1147 383 1136.3 383.3L1122.5 384.3L1093 363.6L1088.1 353.8L1086 335.2Z" stroke-width="1.2" fill="#fff" stroke="none"/>
<path d="M1042.8 355.7C1042 357.4 1038.4 361.7 1037.9 365.6C1037.4 369.6 1037.8 375.3 1039.8 379.4C1041.8 383.5 1045.8 387.8 1049.7 390.2C1053.7 392.6 1059.4 393.6 1063.5 394.1C1067.6 394.6 1072.5 393.3 1074.3 393.1" stroke-width="2" fill="none" />
<path d="M1043.8 336L1043.8 341.7L1042.8 355.7M1086 333L1086 336L1088.1 353.8L1093 363.6L1096 369.8" stroke-width="2" fill="none" />
<path d="M1042.8 349.8C1044.3 350.5 1048.5 353 1052 354C1055.5 355 1059.5 355.7 1063.5 355.7C1067.5 355.7 1072.1 355 1076 354C1079.9 353 1085.2 350.5 1087.1 349.8" stroke-width="2.1" fill="none" />
<path d="M1042.8 354.8C1044.3 355.5 1048.5 358 1052 359C1055.5 360 1059.3 360.8 1063.5 360.7C1067.7 360.6 1072.9 359.8 1077 358.6C1081.1 357.5 1086.2 354.6 1088.1 353.8" stroke-width="1.8" fill="none" />
<path d="M1077.2 359.7L1122.5 384.3L1136.3 383.3C1142 382.8 1147 383 1152 384.3C1158 386.5 1163 390 1167.8 395.1C1173 402 1177 410 1179.6 418.7C1182.5 426 1184.5 432 1185.2 438.4L1185.9 453.8" stroke-width="2" fill="none" />
<path d="M1074.3 393.1L1108.7 410.9L1118.6 414.8L1136.3 413.8L1140.2 414.4C1144 416 1146.5 418 1148.1 420.7C1151 425 1153 430 1153.6 434.5L1155.5 453.8" stroke-width="2" fill="none" />
<path d="M1077.2 359.7C1075.7 360.5 1070.3 361.9 1068 364.5C1065.7 367.1 1063.8 371.7 1063.5 375.4C1063.2 379.1 1064.7 383.6 1066.5 386.5C1068.3 389.4 1073 392 1074.3 393.1" stroke-width="2" fill="none" />
<path d="M1116.6 382.3C1115 383.8 1108.6 387.8 1106.8 391.2C1105 394.6 1104.8 399.4 1105.8 403C1106.8 406.6 1111.5 411.2 1112.7 412.8" stroke-width="1.8" fill="none" />
<path d="M1121.5 384C1119.9 385.5 1113.5 389.6 1111.7 393.1C1109.9 396.6 1109.7 401.4 1110.7 405C1111.7 408.6 1116.4 413 1117.6 414.6" stroke-width="1.7" fill="none" />
<path d="M1137.3 383.3C1135.8 385.6 1128.9 392.5 1128.4 397.1C1127.9 401.7 1132.3 408 1134.3 410.9C1136.3 413.8 1139.2 413.8 1140.2 414.4" stroke-width="1.7" fill="none" />
<path d="M1155.5 453.8L1185.9 453.8L1186.7 466L1186.7 475.5C1192.5 476.5 1192.5 484.5 1187.6 485.6L1185 491C1178 496.8 1162 496.8 1154.7 491L1152 485.6C1147 484.5 1147 476.5 1152.9 475.5L1152.9 466Z" stroke-width="2" fill="#fff" />
<path d="M1155.5 453.8C1156.8 454.3 1160.5 456 1163 456.6C1165.5 457.2 1167.8 457.3 1170.3 457.3C1172.8 457.3 1175.4 457.2 1178 456.6C1180.6 456 1184.6 454.3 1185.9 453.8" stroke-width="1.8" fill="none" />
<path d="M1152.9 466C1154.2 466.6 1158.1 468.7 1161 469.4C1163.9 470.1 1167.3 470.3 1170.3 470.3C1173.3 470.3 1176.3 470.1 1179 469.4C1181.7 468.7 1185.4 466.6 1186.7 466" stroke-width="2.9" fill="none" />
<path d="M1152.9 475.5C1154.2 476.1 1158.1 478.2 1161 478.9C1163.9 479.6 1167.3 479.8 1170.3 479.8C1173.3 479.8 1176.3 479.6 1179 478.9C1181.7 478.2 1185.4 476.1 1186.7 475.5" stroke-width="1.8" fill="none" />
<path d="M1152 485.4C1153.5 485.9 1158 487.8 1161 488.4C1164 489 1167.3 489.3 1170.3 489.3C1173.3 489.3 1176.1 489 1179 488.4C1181.9 487.8 1186.2 485.9 1187.6 485.4" stroke-width="2" fill="none" />
<path d="M1043.8 246L1043.8 270C1038 273 1028 279 1020 284L1014 288L1019 303L1048.8 300L1049.9 336L1086 336L1089 336C1100 339 1112 338 1118 330L1122 306L1136 294L1137 278L1133 269L1109 270L1082.8 273.3L1080 246Z" stroke-width="1.2" fill="#fff" stroke="none"/>
<path d="M1046.6 278.4L1048.8 292.5L1049.9 316.3L1049.5 337" stroke-width="2" fill="none" />
<path d="M980 294.8C981 295.1 984.1 296.3 986.2 296.6C988.3 296.9 989.9 297.2 992.4 296.6C994.9 296 997.6 294.4 1001.2 293C1004.8 291.6 1010.1 289.8 1014.1 288C1018.1 286.2 1021.8 284.1 1025 282.4C1028.2 280.6 1031.1 279.2 1033.6 277.5C1036.1 275.8 1038.3 273.9 1040 272C1041.7 270.1 1043.2 267 1043.8 266" stroke-width="2" fill="none" />
<path d="M1043.8 246.2L1043.8 270L1082.8 273.3" stroke-width="2" fill="none" />
<ellipse cx="1052.6" cy="258.2" rx="7" ry="7.8" stroke-width="2" fill="none" />
<ellipse cx="1072" cy="259.4" rx="6.6" ry="7.8" stroke-width="2" fill="none" />
<path d="M1051.7 168.4C1049 180 1048 195 1047.3 215L1046.2 235.5L1044.9 237L1043.8 246.2L1080 250.6L1079 240L1079.8 200L1078.7 189L1080.9 178.2L1078.7 166.2Z" stroke-width="2" fill="#fff" />
<path d="M1046.2 235.5C1047.5 236.1 1051.3 238.2 1054 239C1056.7 239.8 1059.7 240.1 1062.5 240.3C1065.3 240.5 1068.2 240.5 1071 240.2C1073.8 239.9 1077.7 238.8 1079 238.5" stroke-width="2" fill="none" />
<path d="M1044.9 241C1046.2 241.6 1050.2 243.5 1053 244.3C1055.8 245.1 1059 245.6 1062 245.8C1065 246 1068.1 245.9 1071 245.6C1073.9 245.3 1078.1 244.3 1079.5 244" stroke-width="2.2" fill="none" />
<path d="M1043.8 246.2C1045.2 246.8 1049 248.7 1052 249.5C1055 250.3 1058.8 250.7 1062 250.9C1065.2 251.1 1068 251.1 1071 250.8C1074 250.6 1078.5 249.6 1080 249.4" stroke-width="1.7" fill="none" />
<path d="M1043.8 270C1044.3 271.5 1045.9 276.3 1047 279C1048.1 281.7 1049 284.1 1050.3 286.3C1051.6 288.6 1053.2 290.7 1055 292.5C1056.8 294.3 1060.1 296.3 1061.1 297.1" stroke-width="1.7" fill="none" />
<path d="M1056.8 273.3C1057 274.2 1057.5 277.2 1058 279C1058.5 280.8 1059.3 282.4 1060.1 284.1C1060.9 285.8 1061.9 287.6 1063 289C1064.1 290.4 1066 292.2 1066.6 292.8" stroke-width="1.7" fill="none" />
<path d="M1050.3 286.3C1051.9 285.9 1057 284.9 1060.1 284.1C1063.2 283.3 1066.3 282 1069 281.5C1071.7 281 1075.1 281 1076.3 280.9" stroke-width="1.6" fill="none" />
<path d="M1033 275.5C1034.2 276.8 1037.7 280.4 1040 283C1042.3 285.6 1045.1 288.2 1046.6 291C1048.1 293.8 1048.6 298.5 1049 300" stroke-width="1.6" fill="none" />
<path d="M1069 274C1069.3 274.8 1070.2 277.3 1071 279C1071.8 280.7 1072.8 282.4 1074 284C1075.2 285.6 1077.3 287.8 1078 288.5" stroke-width="1.6" fill="none" />
<path d="M1069.8 290.6L1085 288.5L1106.6 295L1115.3 304.7L1120 322L1115 335L1104 339L1089.3 336.1L1069.8 327.4Z" stroke-width="1.2" fill="#fff" stroke="none"/>
<path d="M1072 290.6A9.8 18.4 0 0 0 1072 327.4" stroke-width="3.2" fill="none" />
<path d="M1075.8 291.4A8.8 17.8 0 0 0 1075.8 327" stroke-width="1.7" fill="none" />
<path d="M1079 292.6A7.6 17 0 0 0 1079 326.4" stroke-width="1.6" fill="none" />
<path d="M1072 290.6C1080 288.6 1090 288 1098 290.5C1106 294 1112 299 1115.3 304.7" stroke-width="2" fill="none" />
<path d="M1072 327.4L1089.3 336.1" stroke-width="2" fill="none" />
<ellipse cx="1102.6" cy="321.6" rx="16.6" ry="17" stroke-width="2.9" fill="#fff" />
<ellipse cx="1104" cy="321.8" rx="12.6" ry="13.2" stroke-width="1.6" fill="none" />
<circle cx="1105" cy="322" r="8.4" stroke-width="2.1" fill="none" />
<path d="M1107.7 289L1108.5 268.7L1134.3 267.8C1137 271 1139.6 276 1139.6 281.1L1139.6 293.5L1137.8 297.9L1117 306.8" stroke-width="2" fill="#fff" />
<path d="M1106.6 295C1112 293 1118 294.5 1122 299" stroke-width="1.7" fill="none" />
<g transform="translate(1012 338.5) rotate(169.4) scale(0.96)" >
<path d="M8 -7.5C14 -5.8 21 -5.2 27 -5.6L27 5.6C21 5.2 14 5.8 8 7.5Z" stroke-width="2" fill="#fff" />
<path d="M27 -6.8L29 -6.8L29 6.8L27 6.8Z" stroke-width="1.5" fill="#fff" />
<path d="M29 -6.5C31 -9.5 39 -9.5 41.5 -7C43.6 -4 43.6 4 41.5 7C39 9.5 31 9.5 29 6.5Z" stroke-width="2" fill="#fff" />
<path d="M41 -5.5C43.6 -3 43.6 3 41 5.5C39.6 3 39.6 -3 41 -5.5Z" stroke-width="1.7" fill="#222" />
<path d="M32 -8.3C33.6 -4 33.6 4 32 8.3" stroke-width="1.3" fill="none" />
</g>
<g transform="translate(1012 338.5) rotate(-90) scale(0.95)" >
<path d="M8 -7.5C14 -5.8 21 -5.2 27 -5.6L27 5.6C21 5.2 14 5.8 8 7.5Z" stroke-width="2" fill="#fff" />
<path d="M27 -6.8L29 -6.8L29 6.8L27 6.8Z" stroke-width="1.5" fill="#fff" />
<path d="M29 -6.5C31 -9.5 39 -9.5 41.5 -7C43.6 -4 43.6 4 41.5 7C39 9.5 31 9.5 29 6.5Z" stroke-width="2" fill="#fff" />
<path d="M32 -8.3C33.6 -4 33.6 4 32 8.3" stroke-width="1.3" fill="none" />
</g>
<g transform="translate(1012 338.5) rotate(-10) scale(0.95)" >
<path d="M8 -7.5C14 -5.8 21 -5.2 27 -5.6L27 5.6C21 5.2 14 5.8 8 7.5Z" stroke-width="2" fill="#fff" />
<path d="M27 -6.8L29 -6.8L29 6.8L27 6.8Z" stroke-width="1.5" fill="#fff" />
<path d="M29 -6.5C31 -9.5 39 -9.5 41.5 -7C43.6 -4 43.6 4 41.5 7C39 9.5 31 9.5 29 6.5Z" stroke-width="2" fill="#fff" />
<path d="M32 -8.3C33.6 -4 33.6 4 32 8.3" stroke-width="1.3" fill="none" />
</g>
<g transform="translate(1012 338.5) rotate(90) scale(1.01)" >
<path d="M8 -7.5C14 -5.8 21 -5.2 27 -5.6L27 5.6C21 5.2 14 5.8 8 7.5Z" stroke-width="2" fill="#fff" />
<path d="M27 -6.8L29 -6.8L29 6.8L27 6.8Z" stroke-width="1.5" fill="#fff" />
<path d="M29 -6.5C31 -9.5 39 -9.5 41.5 -7C43.6 -4 43.6 4 41.5 7C39 9.5 31 9.5 29 6.5Z" stroke-width="2" fill="#fff" />
<path d="M32 -8.3C33.6 -4 33.6 4 32 8.3" stroke-width="1.3" fill="none" />
</g>
<path d="M1030.1 347.9L1023.5 354.5L1014.1 354.5L1007.5 347.9L1007.5 338.5L1014.1 331.9L1023.5 331.9L1030.1 338.5Z" stroke-width="5.2" fill="#fff" />
<circle cx="1018.8" cy="343.2" r="6.9" stroke-width="1.8" fill="none" />
<text font-size="10" text-anchor="middle" transform="translate(1018.8 346.5) scale(1 1)" font-weight="bold" stroke-width="0.3">H</text>
<path d="M999.7 133C1000.3 134.2 1001.9 138.2 1003.5 140.5C1005.1 142.8 1007.1 145 1009.5 146.8C1011.9 148.6 1014.7 150.2 1018 151.5C1021.3 152.8 1025.5 153.8 1029.2 154.6C1032.9 155.3 1036.2 155.6 1040 156C1043.8 156.4 1050 156.7 1052 156.8" stroke-width="2" fill="none" />
<path d="M1080.1 152.5C1082.1 151.4 1088.2 148.3 1092 146C1095.8 143.7 1099.5 140.8 1102.8 138.5C1106.1 136.2 1109.1 134.2 1112 132C1114.9 129.8 1117.7 127.9 1120.1 125.5C1122.5 123.1 1124.7 120 1126.5 117.5C1128.3 115 1129.5 112.9 1131 110.3C1132.5 107.7 1134.6 103.1 1135.3 101.7" stroke-width="2" fill="none" />
<path d="M1006.6 129C1007.2 129.9 1009 132.8 1010.5 134.5C1012 136.2 1013.1 137.5 1015.4 138.9C1017.6 140.3 1020.7 141.8 1024 143C1027.3 144.2 1031.3 145.2 1035.1 145.8C1038.9 146.4 1042.6 147 1047 146.6C1051.4 146.2 1057.5 144.7 1061.7 143.5C1065.9 142.3 1068.4 141.2 1072 139.5C1075.6 137.8 1079.5 135.3 1083.3 133C1087 130.7 1090.9 128.2 1094.5 125.5C1098.1 122.8 1101.8 119.5 1105 116.8C1108.2 114 1111 111.5 1113.5 109C1116 106.5 1118.4 104 1120.1 101.7C1121.8 99.4 1122.9 96.3 1123.4 95.2" stroke-width="2" fill="none" />
<path d="M1002.5 128C1003.2 129.3 1005.2 133.5 1007 136C1008.8 138.5 1011.1 140.9 1013.5 142.8C1015.9 144.7 1018.5 146.2 1021.5 147.5C1024.5 148.8 1027.8 149.9 1031.2 150.7C1034.6 151.5 1038.1 152.2 1042 152.4C1045.9 152.6 1051.5 152.2 1054.8 151.7C1058.1 151.2 1058.8 150.4 1061.7 149.6C1064.6 148.8 1068.4 147.9 1072 147C1075.6 146.1 1079.5 145.3 1083.3 143.9C1087 142.5 1090.9 140.5 1094.5 138.5C1098.1 136.5 1101.7 134.3 1105 132C1108.3 129.7 1111.6 127 1114.5 124.5C1117.4 122 1120.2 119.2 1122.3 116.8C1124.4 114.4 1125.7 112.2 1127 110C1128.3 107.8 1128.9 105.9 1129.9 103.8C1130.9 101.7 1132.6 98.4 1133.1 97.3" stroke-width="3.4" fill="none" />
<path d="M1050.6 161.9L1051.7 168.4C1060 172 1071 171 1078.7 166.2L1078.7 158.7L1078.6 152.6C1072 149 1058 150 1052.6 154.5Z" stroke-width="1.8" fill="#fff" />
<path d="M1050.6 161.9C1051.7 162.3 1054.6 164.1 1057 164.6C1059.4 165.1 1062.5 165.2 1065 165C1067.5 164.8 1069.7 164.4 1072 163.6C1074.3 162.8 1077.6 160.9 1078.7 160.4" stroke-width="2.7" fill="none" />
<path d="M1051.7 167.6C1052.8 168.1 1055.8 169.9 1058 170.4C1060.2 170.9 1062.7 171 1065 170.8C1067.3 170.6 1069.7 170.2 1072 169.4C1074.3 168.6 1077.6 166.7 1078.7 166.2" stroke-width="2.4" fill="none" />
<path d="M1052.6 155C1053.5 155.4 1055.9 156.9 1058 157.3C1060.1 157.7 1062.7 157.8 1065 157.6C1067.3 157.4 1069.7 157.1 1072 156.4C1074.3 155.7 1077.5 154.1 1078.6 153.6" stroke-width="1.7" fill="none" />
<path d="M946.8 125.4C949 118 955 109.5 962.1 104.2C969 99 977 96.5 985.5 94.6L1003.6 92.6L1000.7 113.7L987.9 115.7C981 117.5 975 121 971.6 124.3C968.5 127.5 966 130.5 964.5 133.7Z" stroke-width="2" fill="#fff" />
<path d="M981 97.6C981.9 98.2 985.2 99.9 986.4 101.5C987.6 103.1 988.1 104.9 988.2 107.4C988.3 109.9 987.1 114.8 986.9 116.3" stroke-width="1.8" fill="none" />
<path d="M985.9 94.4L985.9 88.7L989.5 87.4L995.7 88.6L995.7 93.4M989.6 87.6L989.6 93.8" stroke-width="1.6" fill="none" />
<path d="M1003.6 92.6C1008 90 1011.5 87 1014.4 84.8L1020.4 85.7L1022.3 113.7L1018.4 114.3C1012 114 1006 113.8 1000.7 113.7Z" stroke-width="1.8" fill="#fff" />
<path d="M1020.4 85.7C1023.5 84.4 1032.6 80.4 1039 77.9C1045.4 75.5 1051.4 72.9 1058.7 71C1066 69.1 1074.8 67.3 1082.8 66.3C1090.8 65.3 1101 64.7 1107 64.8C1113 64.9 1115.6 65.3 1119 66.8C1122.4 68.3 1125.9 72.5 1127.3 73.7L1128.5 89 L1121.4 93 L1105 99.5 L1080 107.8 L1058.7 112.3 L1039 114.3 L1022.3 113.7Z" stroke-width="1.2" fill="#fff" stroke="none"/>
<path d="M1020.4 85.7C1023.5 84.4 1032.6 80.4 1039 77.9C1045.4 75.5 1051.4 72.9 1058.7 71C1066 69.1 1074.8 67.3 1082.8 66.3C1090.8 65.3 1101 64.7 1107 64.8C1113 64.9 1115.6 65.3 1119 66.8C1122.4 68.3 1125.9 72.5 1127.3 73.7" stroke-width="2" fill="none" />
<path d="M1022.3 113.7C1025.1 113.8 1032.9 114.5 1039 114.3C1045.1 114.1 1051.9 113.4 1058.7 112.3C1065.5 111.2 1072.3 109.9 1080 107.8C1087.7 105.7 1098.1 102 1105 99.5C1111.9 97 1117.5 94.8 1121.4 93C1125.3 91.2 1127.3 89.7 1128.5 89" stroke-width="2" fill="none" />
<path d="M1014.4 84.8C1021.5 88.5 1025 94.5 1025 99.5C1025 105.5 1022.5 111 1018.4 114.3Z" stroke-width="1.2" fill="#fff" stroke="none"/>
<path d="M1014.4 84.8C1021.5 88.5 1025 94.5 1025 99.5C1025 105.5 1022.5 111 1018.4 114.3" stroke-width="2.1" fill="none" />
<path d="M1011.6 86.6C1017.5 90 1020.6 95 1020.6 100C1020.6 105.5 1018.6 110.5 1015.4 114" stroke-width="1.7" fill="none" />
<path d="M1004.6 98.5C1009.5 99.5 1013.2 103.5 1013.2 109.4C1013.2 116 1010 122.5 1005.6 127.6L1000.2 125.4C1004 121 1006 117 1006.2 113.3C1006.6 107 1005.6 102 1004.6 98.5Z" stroke-width="2" fill="#fff" />
<path d="M1004.6 98.5L1005 96.3L1011.4 97.6L1012 102" stroke-width="1.7" fill="none" />
<path d="M1009 100.5C1010 106 1009.6 115 1003.5 126.6" stroke-width="1.5" fill="none" />
<path d="M992.8 117.2L998.7 129.5L999.7 133M997 116.5L1001.7 126M1005.6 127.6L1006.6 129" stroke-width="1.8" fill="none" />
<path d="M1131.7 60.8L1159.3 56.7L1167.5 55.3L1173 58.1C1175.5 61 1176.8 66 1177.2 71C1177.4 76 1176.5 79.5 1174.4 81.5L1144.1 90.5L1132 92Z" stroke-width="2" fill="#fff" />
<path d="M1159.3 57.2C1159.9 58.8 1161.9 63.8 1162.7 67C1163.5 70.2 1164.1 73.8 1164.1 76.7C1164.1 79.6 1162.9 83.3 1162.7 84.6" stroke-width="2.7" fill="none" />
<path d="M1167.5 55.5C1168 56.8 1169.9 60.2 1170.6 63C1171.3 65.8 1171.8 68.8 1171.8 72C1171.8 75.2 1170.6 80.7 1170.4 82.4" stroke-width="1.5" fill="none" />
<path d="M1115.2 62.9C1120 62.5 1124.5 66 1126.5 70C1129 76 1130 82 1129.6 86.3C1129.4 89 1128.6 91 1127.6 92.5L1123.4 95.2L1121.4 93C1124 85 1124.5 76 1119 66.8Z" stroke-width="1.7" fill="#fff" />
<path d="M1115.2 62.9C1116.6 63.4 1121.2 63.6 1123.4 65.7C1125.6 67.8 1127.3 71.9 1128.3 75.3C1129.3 78.7 1129.7 83.4 1129.6 86.3C1129.5 89.2 1127.9 91.5 1127.6 92.5" stroke-width="2.7" fill="none" />
<path d="M1115.2 62.6L1120.7 60.6L1125.5 63.6" stroke-width="1.8" fill="none" />
<path d="M1137.2 62.9C1137.9 64.3 1140.2 68.2 1141.3 71.2C1142.4 74.2 1143.6 77.6 1144.1 80.8C1144.6 84 1144.1 88.9 1144.1 90.5" stroke-width="1.8" fill="none" />
<path d="M1133.1 71.9L1142.7 73.3L1142 90.5L1137.2 100.1L1131.7 100.1L1134.5 90.5Z" stroke-width="1.8" fill="#fff" />
<path d="M1137.9 74.6L1138.3 88M1137.9 79.5L1142.4 80" stroke-width="1.5" fill="none" />
<path d="M1129.6 62.9L1131.7 60.8" stroke-width="1.7" fill="none" />
<g transform="translate(929.3 180.4) rotate(24.8)" >
<path d="M-7 -57.5L12.5 -57.5L16 -39L43 -16L47 -3L-44 -3L-43 -16L-16 -39Z" stroke-width="1.2" fill="#fff" stroke="none"/>
<path d="M-7 -57.5C-8 -52 -11 -49 -13 -47L-13.8 -44.3L-14.6 -41.6L-15.6 -39L-36 -27C-40.5 -24 -43 -20 -43 -16L-44 -4" stroke-width="1.8" fill="none" />
<path d="M12.5 -57.5C13 -52 15 -49 16.8 -46L16.6 -43.6L16.4 -41L16.4 -38.5L34 -27C41 -23 44 -20 44.5 -16L47 -3.5" stroke-width="1.8" fill="none" />
<path d="M-7 -57.5Q3 -55 12.5 -57.5" stroke-width="2.4" fill="none" />
<path d="M-13 -47Q2 -44 16.8 -47" stroke-width="1.7" fill="none" />
<path d="M-13.8 -44.3Q2 -41.3 16.6 -44.3" stroke-width="1.7" fill="none" />
<path d="M-14.6 -41.6Q2 -38.6 16.4 -41.6" stroke-width="1.7" fill="none" />
<path d="M-15.6 -39Q2 -36 16.4 -39" stroke-width="1.7" fill="none" />
<path d="M-36 -27Q0 -22 34 -27" stroke-width="1.6" fill="none" />
<path d="M-43 -16Q0 -10.5 44.5 -16" stroke-width="1.6" fill="none" />
<path d="M-44 -5.5Q0 -1 46.5 -5.5" stroke-width="1.6" fill="none" />
<path d="M-49.2 -0.8L49.2 -0.8" stroke-width="2.8" fill="none" />
<path d="M-47 -3.4L48.5 -3.4" stroke-width="1.5" fill="none" />
</g>
<path d="M1080 171.8L1095.4 169.4L1103.1 200.2L1085.4 200.7C1082 200 1080.5 199 1080 197.8C1078 195.5 1077.1 193 1077.1 190.7C1077.3 188 1078.5 186 1078.9 183.6Z" stroke-width="2" fill="#fff" />
<path d="M1095.4 169.4L1107.8 167.1L1113.7 171.8L1116.1 181.3L1116.7 194.3L1113.7 199L1105.4 200.7L1103.1 200.2C1101 190 1098 178 1095.4 169.4Z" stroke-width="2.1" fill="#fff" />
<path d="M1096.4 169.6C1096.9 171.6 1098.4 177 1099.4 181.3C1100.4 185.6 1101.9 192.2 1102.6 195.4C1103.3 198.6 1103.3 199.4 1103.4 200.2" stroke-width="3.9" fill="none" />
<path d="M1099.6 171.8L1104.3 181.9L1105.6 200.4M1104.3 181.9L1116.1 180.1" stroke-width="1.7" fill="none" />
<path d="M1083 215C1079 222 1077.6 232 1077.6 241L1080.6 251.7L1085 287.4C1090 291.5 1101 292 1106.6 288.5L1109.9 262.5L1112.3 241C1112.3 232 1111 222 1106.9 215Z" stroke-width="2" fill="#fff" />
<path d="M1084.1 212.8L1105.8 212.8L1106.9 215L1083 215Z" stroke-width="2" fill="#222" />
<path d="M1091.3 202.5L1091.3 204.5C1090 208 1086 210.5 1083 212.4L1105 212C1101.5 209.5 1098.5 207.5 1097.8 204.5L1097.8 202.5" stroke-width="1.8" fill="#fff" />
<circle cx="1094.5" cy="196.6" r="6.9" stroke-width="2.1" fill="#fff" />
<path d="M1085 287.4C1085.8 287.9 1088.2 289.7 1090 290.3C1091.8 290.9 1093.9 291 1095.8 291C1097.7 291 1099.7 290.8 1101.5 290.4C1103.3 290 1105.8 288.8 1106.6 288.5" stroke-width="3.2" fill="none" />
<path d="M1087.5 237.8C1088.8 237.9 1092.4 238.2 1095 238.2C1097.6 238.2 1100.4 237.9 1103 237.6C1105.6 237.3 1109.2 236.8 1110.5 236.6" stroke-width="2.9" fill="none" />
<path d="M1088.5 243.6L1094 243.9M1096 243.9L1102 243.6M1104 243.4L1109 242.8" stroke-width="2.2" fill="none" />
<path d="M1086 291L1087.1 299.3" stroke-width="1.6" />
</svg>
</body></html>
